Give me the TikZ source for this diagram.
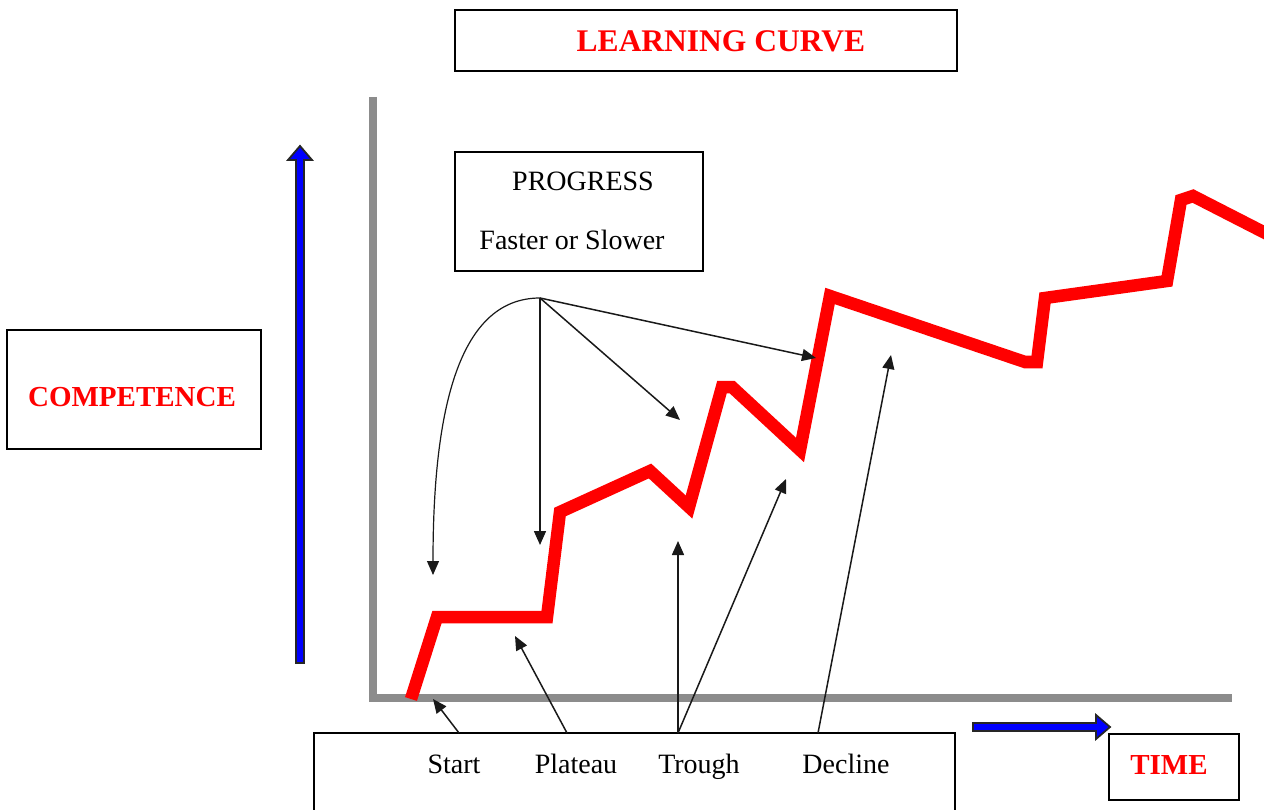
\documentclass[tikz,border=0pt]{standalone}
\usepackage{fontspec}
\setmainfont{Liberation Serif}
\usetikzlibrary{arrows.meta}
\begin{document}
\begin{tikzpicture}[x=1pt,y=-1pt,
  box/.style={draw=black,line width=1.2pt,inner sep=0pt},
  lbl/.style={font=\fontsize{28}{30}\selectfont,anchor=base,inner sep=0pt},
  redlbl/.style={font=\fontsize{29}{31}\selectfont\bfseries,text=red,anchor=base,inner sep=0pt},
  pointer/.style={draw=black!90,line width=1.5pt,-{Triangle[length=14pt,width=12pt]}},
  axis/.style={draw=black!45,line width=8pt},
  curve/.style={draw=red,line width=12.5pt,line join=miter},
  bluearrow/.style={fill=blue,draw=black!85,line width=1.8pt}]
\useasboundingbox (0,0) rectangle (1264,810);
\clip (0,0) rectangle (1264,810);
\fill[white] (0,0) rectangle (1264,810);
% axes
\draw[axis] (373,97) -- (373,698) -- (1232,698);
% blue arrows
\draw[bluearrow] (296,663) -- (296,160) -- (288,160) -- (300,146) -- (312,160) -- (304,160) -- (304,663) -- cycle;
\draw[bluearrow] (973,723) -- (1096,723) -- (1096,715) -- (1110,727) -- (1096,739) -- (1096,731) -- (973,731) -- cycle;
% learning curve
\draw[curve] (411,699) -- (437,617) -- (547,617) -- (560,512) -- (650,471) -- (689,507)
  -- (722,387) -- (732,387) -- (800,450) -- (830,296) -- (1025,362) -- (1037,362) -- (1045,298)
  -- (1167,281) -- (1181,200) -- (1193,196) -- (1275,238);
% boxes
\node[box,minimum width=502pt,minimum height=61pt] (titlebox) at (706,40.5) {};
\node[redlbl,font=\fontsize{31.5}{33}\selectfont\bfseries] (title) at (721,52) {LEARNING CURVE};
\node[box,minimum width=248pt,minimum height=119pt] (progbox) at (579,211.5) {};
\node[lbl] (progress) at (583,191) {PROGRESS};
\node[lbl] (faster) at (572,250) {Faster or Slower};
\node[box,minimum width=254pt,minimum height=119pt] (compbox) at (134,389.5) {};
\node[redlbl] (competence) at (132,406) {COMPETENCE};
\node[box,minimum width=130pt,minimum height=66pt] (timebox) at (1174,767) {};
\node[redlbl] (time) at (1169,774) {TIME};
\node[box,fill=white,minimum width=641pt,minimum height=100pt] (bottombox) at (634.5,783) {};
\node[lbl] (start) at (454,773) {Start};
\node[lbl] (plateau) at (576,773) {Plateau};
\node[lbl] (trough) at (699,773) {Trough};
\node[lbl] (decline) at (846,773) {Decline};
% progress pointers
\coordinate (apex) at (540,298);
\coordinate (pA) at (433,575);
\coordinate (pB) at (540,545);
\coordinate (pC) at (680,420);
\coordinate (pD) at (816,358);
\draw[pointer,line width=1.2pt] (apex) .. controls (455,298) and (433,420) .. (pA);
\draw[pointer] (apex) -- (pB);
\draw[pointer] (apex) -- (pC);
\draw[pointer] (apex) -- (pD);
% bottom pointers
\coordinate (sS) at (459,733);
\coordinate (sP) at (567,733);
\coordinate (sT) at (678,733);
\coordinate (sD) at (818,733);
\coordinate (tS) at (433,699);
\coordinate (tP) at (515,636);
\coordinate (tT1) at (678,541);
\coordinate (tT2) at (786,479);
\coordinate (tD) at (891,355);
\draw[pointer] (sS) -- (tS);
\draw[pointer] (sP) -- (tP);
\draw[pointer] (sT) -- (tT1);
\draw[pointer] (sT) -- (tT2);
\draw[pointer] (sD) -- (tD);
\end{tikzpicture}
\end{document}
